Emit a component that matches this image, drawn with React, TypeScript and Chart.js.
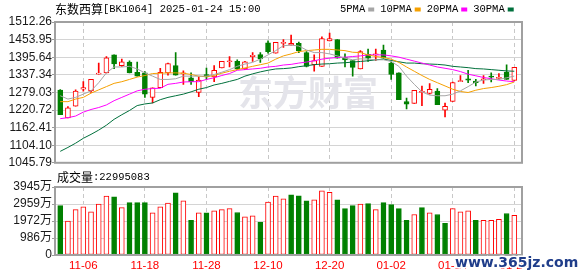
import React, { useEffect, useRef } from 'react';
import { Chart, registerables } from 'chart.js';
Chart.register(...registerables);

// ---------- data ----------
const dates = [
  '11-01','11-04','11-05','11-06','11-07','11-08','11-11','11-12','11-13','11-14',
  '11-15','11-18','11-19','11-20','11-21','11-22','11-25','11-26','11-27','11-28',
  '11-29','12-02','12-03','12-04','12-05','12-06','12-09','12-10','12-11','12-12',
  '12-13','12-16','12-17','12-18','12-19','12-20','12-23','12-24','12-25','12-26',
  '12-27','12-30','12-31','01-02','01-03','01-06','01-07','01-08','01-09','01-10',
  '01-13','01-14','01-15','01-16','01-17','01-20','01-21','01-22','01-23','01-24',
];
const opens = [
  1286.3,1194.2,1233.2,1289.5,1284.1,1339.4,1343.7,1403.3,1367.5,1379.4,
  1345.9,1343.7,1262.5,1294.9,1343.7,1367.6,1340.5,1327.5,1278.7,1338.3,
  1330.7,1360.0,1380.5,1381.6,1356.7,1397.8,1404.4,1443.4,1408.7,1441.2,
  1435.8,1441.2,1410.9,1370.8,1365.3,1449.9,1454.2,1394.6,1384.8,1356.7,
  1405.4,1403.3,1419.5,1376.2,1343.7,1248.4,1242.9,1279.0,1275.4,1283.0,
  1220.2,1249.5,1314.5,1324.2,1316.7,1320.9,1332.9,1325.3,1346.0,1318.8,
];
const highs = [
  1288.0,1232.0,1287.3,1314.5,1322.0,1376.2,1397.8,1403.3,1389.2,1383.8,
  1379.4,1348.0,1293.9,1358.9,1376.2,1410.9,1350.2,1343.7,1330.7,1360.0,
  1367.5,1381.6,1397.8,1387.0,1381.6,1410.9,1410.9,1449.9,1444.5,1454.2,
  1469.3,1445.5,1414.1,1403.3,1462.9,1475.9,1454.2,1406.5,1384.8,1417.4,
  1422.8,1422.8,1435.8,1380.5,1343.7,1260.3,1286.2,1300.0,1308.0,1291.6,
  1244.0,1313.5,1335.0,1352.4,1322.0,1335.0,1343.7,1341.5,1370.0,1362.1,
];
const lows = [
  1205.0,1194.2,1233.2,1283.0,1278.7,1339.4,1343.7,1357.8,1365.3,1343.7,
  1332.9,1262.5,1244.0,1294.9,1336.1,1336.1,1305.8,1305.8,1264.6,1322.0,
  1314.5,1360.0,1363.2,1354.5,1354.5,1381.6,1378.4,1408.7,1408.7,1428.2,
  1435.8,1410.9,1363.2,1349.1,1365.3,1449.9,1392.4,1363.2,1332.9,1356.7,
  1381.6,1384.8,1392.4,1322.0,1254.8,1224.5,1242.9,1235.4,1273.2,1238.6,
  1197.4,1249.5,1314.5,1311.3,1300.4,1309.1,1313.4,1322.0,1322.0,1318.8,
];
const closes = [
  1205.0,1227.8,1283.0,1294.9,1322.0,1342.6,1393.5,1373.0,1380.5,1343.7,
  1332.9,1273.3,1293.9,1345.9,1374.1,1336.1,1343.7,1314.5,1319.9,1330.7,
  1352.4,1381.6,1383.8,1356.7,1380.5,1402.2,1390.3,1414.1,1444.5,1443.4,
  1441.2,1417.4,1365.3,1384.8,1457.4,1457.4,1392.4,1387.0,1362.1,1414.1,
  1392.4,1406.5,1392.4,1338.3,1254.8,1239.7,1286.2,1281.0,1289.5,1238.6,
  1233.2,1311.3,1316.7,1319.9,1311.3,1324.2,1329.6,1327.5,1322.0,1362.1,
];
const ma5 = [
  1267.9,1257.0,1262.5,1273.3,1284.1,1311.2,1343.7,1363.2,1363.2,1365.4,
  1356.7,1343.7,1332.9,1322.0,1322.0,1324.2,1332.9,1332.9,1332.9,1332.9,
  1338.3,1345.9,1354.5,1365.4,1373.0,1378.4,1389.2,1403.3,1417.4,1433.6,
  1435.8,1432.5,1419.5,1410.9,1410.9,1406.5,1400.0,1392.5,1387.0,1390.3,
  1389.2,1387.0,1387.0,1381.6,1365.4,1332.9,1305.8,1280.9,1270.0,1267.9,
  1267.9,1273.3,1284.1,1298.2,1313.4,1319.9,1322.0,1322.0,1327.5,1332.9,
];
const ma10 = [
  1248.4,1248.4,1257.0,1262.5,1276.5,1287.4,1298.2,1309.0,1314.5,1322.0,
  1329.6,1335.0,1341.5,1342.6,1343.7,1343.7,1342.6,1338.3,1332.9,1330.7,
  1335.0,1342.6,1349.1,1354.5,1360.0,1365.4,1370.8,1376.2,1389.2,1400.0,
  1406.5,1414.1,1417.4,1419.5,1421.7,1421.7,1419.5,1417.4,1412.0,1410.9,
  1403.3,1397.9,1394.6,1389.2,1378.4,1363.2,1349.1,1335.0,1322.0,1311.2,
  1300.4,1289.5,1282.0,1278.7,1286.3,1291.7,1295.0,1299.3,1304.7,1313.4,
];
const ma20 = [
  1192.0,1195.3,1200.7,1213.7,1222.4,1228.9,1237.5,1251.6,1262.5,1273.3,
  1284.1,1289.5,1291.7,1292.8,1305.8,1309.0,1313.4,1314.5,1314.5,1322.0,
  1327.5,1335.0,1341.5,1352.4,1354.5,1356.7,1358.9,1363.2,1365.4,1369.7,
  1371.9,1376.2,1379.5,1383.8,1389.2,1392.5,1394.6,1395.7,1397.9,1400.0,
  1403.3,1403.3,1403.3,1400.0,1395.7,1389.2,1382.7,1376.2,1369.7,1363.2,
  1358.9,1354.5,1348.0,1339.4,1334.0,1328.5,1324.2,1319.9,1316.6,1314.5,
];
const ma30 = [
  1083.7,1096.7,1110.8,1127.0,1140.0,1154.1,1170.4,1189.9,1205.0,1219.1,
  1235.4,1240.8,1244.0,1254.9,1262.5,1267.9,1273.3,1280.9,1289.5,1295.0,
  1303.6,1309.0,1315.5,1322.0,1332.9,1340.5,1347.0,1352.4,1356.7,1357.8,
  1360.0,1364.3,1367.5,1370.8,1373.0,1374.0,1376.2,1377.3,1379.5,1381.6,
  1383.8,1387.0,1389.2,1384.9,1380.5,1376.2,1376.2,1374.0,1373.0,1371.9,
  1369.7,1365.4,1363.2,1361.0,1357.8,1356.7,1354.5,1352.4,1350.2,1349.1,
];
// volume in 万
const volumes = [
  2864,1973,2637,2789,2504,2959,3415,3377,2751,3035,
  3035,3035,2447,2789,3016,3604,3149,2011,2447,2447,
  2561,2637,2694,2466,2219,2276,1897,3073,3415,3263,
  3490,3434,3149,3206,3718,3642,3206,2694,2864,2959,
  2978,2637,3035,2921,2694,2011,2352,2751,2447,2352,
  1840,2694,2504,2561,2011,2011,2011,2068,2409,2300,
];
// 1 = up day (red), -1 = down day (green) for the volume bars
const volumeDir = [
  -1,1,1,1,1,1,1,-1,1,-1,
  -1,-1,1,1,1,-1,1,-1,1,-1,
  1,1,1,-1,1,1,-1,1,1,1,
  -1,-1,-1,1,1,1,-1,-1,-1,1,
  -1,1,-1,-1,-1,-1,1,-1,1,-1,
  -1,1,1,1,-1,1,1,1,-1,1,
];
const priceTickLabels = ['1045.79','1104.10','1162.41','1220.72','1279.03','1337.34','1395.64','1453.95','1512.26'];
const volumeTickValues = [0, 986.25, 1972.5, 2958.75, 3945];
const volumeTickLabels = ['0','986万','1972万','2959万','3945万'];
const xTickLabels = ['11-06','11-18','11-28','12-10','12-20','01-02','01-14','01-24'];
const titleName = '东数西算';
const titleCode = '[BK1064] 2025-01-24 15:00';
const maNames = ['5PMA','10PMA','20PMA','30PMA'];
const volumeTitle = '成交量';
const lastVolume = '22995083';
const watermarkMain = '东方财富';
const watermarkSite = 'www.365jz.com';

// ---------- styles ----------
const RED = '#ff0000';
const GREEN = '#008000';
const MA_COLORS = ['#a6a6a6', '#f5a000', '#ff00ff', '#00703c'];
const CJK = '12px "Noto Sans CJK SC"';
const MONO = '10.5px "Liberation Mono"';
const N = dates.length;
const X_MIN = -0.68;
const PLOT_LEFT = 55;
const PLOT_RIGHT_PAD = 56;

const priceMin = parseFloat(priceTickLabels[0]);
const priceMax = parseFloat(priceTickLabels[priceTickLabels.length - 1]);
const priceTickValues = priceTickLabels.map(
  (_, k) => priceMin + ((priceMax - priceMin) * k) / (priceTickLabels.length - 1)
);
const xTickIdx = xTickLabels.map((l) => dates.indexOf(l));

function drawRun(ctx: CanvasRenderingContext2D, x: number, y: number, parts: [string, string, string][]) {
  for (const [text, font, color] of parts) {
    ctx.font = font;
    ctx.fillStyle = color;
    ctx.fillText(text, x, y);
    x += ctx.measureText(text).width;
  }
  return x;
}

const framePlugin = {
  id: 'frame',
  afterDatasetsDraw(chart: any) {
    const { ctx, chartArea: a } = chart;
    ctx.save();
    ctx.strokeStyle = '#a0a0a0';
    ctx.lineWidth = 2;
    ctx.strokeRect(a.left, a.top, a.right - a.left, a.bottom - a.top);
    ctx.restore();
  },
};

function xScale(showLabels: boolean) {
  return {
    type: 'linear',
    min: X_MIN,
    max: N,
    bounds: 'data',
    offset: false,
    afterBuildTicks: (s: any) => {
      s.ticks = xTickIdx.map((v) => ({ value: v }));
    },
    afterFit: (s: any) => {
      s.height = showLabels ? 21 : 0;
    },
    grid: { color: '#c8c8c8', lineWidth: 1, drawTicks: false, offset: false },
    border: { display: false, dash: [4, 3] },
    ticks: {
      display: showLabels,
      color: RED,
      font: { family: 'Liberation Sans', size: 11.5 },
      padding: 4,
      maxRotation: 0,
      autoSkip: false,
      callback: (v: any) => dates[v as number],
    },
  };
}

export default function App() {
  const priceRef = useRef<HTMLCanvasElement>(null);
  const volRef = useRef<HTMLCanvasElement>(null);

  useEffect(() => {
    const idx = dates.map((_, i) => i);
    const up = idx.map((i) => closes[i] >= opens[i]);

    const textPlugin = {
      id: 'priceText',
      beforeDatasetsDraw(chart: any) {
        const { ctx } = chart;
        ctx.save();
        ctx.font = 'bold 35px "Noto Sans CJK SC"';
        ctx.fillStyle = '#e4e4ea';
        ctx.textAlign = 'center';
        ctx.textBaseline = 'middle';
        ctx.fillText(watermarkMain, 308, 93);
        ctx.restore();
      },
      afterDraw(chart: any) {
        const { ctx } = chart;
        ctx.save();
        ctx.textBaseline = 'middle';
        drawRun(ctx, 55, 9.5, [
          [titleName, CJK, '#000'],
          [titleCode, MONO, '#000'],
        ]);
        let x = 340;
        maNames.forEach((name, k) => {
          ctx.font = MONO;
          ctx.fillStyle = '#000';
          ctx.fillText(name, x, 9.5);
          x += ctx.measureText(name).width + 3;
          ctx.fillStyle = MA_COLORS[k];
          ctx.fillRect(x, 7.5, 6, 4);
          x += 6 + 6;
        });
        ctx.restore();
      },
    };

    const priceChart = new Chart(priceRef.current as HTMLCanvasElement, {
      type: 'bar',
      data: {
        datasets: [
          ...[ma5, ma10, ma20, ma30].map((arr, k) => ({
            type: 'line',
            data: idx.map((i) => ({ x: i, y: arr[i] })),
            borderColor: MA_COLORS[k],
            borderWidth: 1,
            pointRadius: 0,
            tension: 0,
            order: 1,
          })),
          {
            type: 'bar',
            data: idx.map((i) => ({ x: i, y: [opens[i], closes[i]] })),
            backgroundColor: idx.map((i) => (up[i] ? '#ffffff' : GREEN)),
            borderColor: idx.map((i) => (up[i] ? RED : GREEN)),
            borderWidth: 1,
            borderSkipped: false,
            barThickness: 5,
            minBarLength: 1,
            grouped: false,
            order: 2,
          },
          {
            type: 'bar',
            data: idx.map((i) => ({ x: i, y: [lows[i], highs[i]] })),
            backgroundColor: idx.map((i) => (up[i] ? RED : GREEN)),
            borderWidth: 0,
            barThickness: 1,
            minBarLength: 1,
            grouped: false,
            order: 3,
          },
        ] as any,
      },
      options: {
        responsive: false,
        maintainAspectRatio: false,
        devicePixelRatio: 1,
        animation: false,
        events: [],
        layout: { padding: { top: 22, bottom: 5, left: 0, right: PLOT_RIGHT_PAD } },
        plugins: { legend: { display: false }, tooltip: { enabled: false } },
        scales: {
          x: xScale(false) as any,
          y: {
            type: 'linear',
            min: priceMin,
            max: priceMax,
            bounds: 'data',
            beginAtZero: false,
            afterBuildTicks: (s: any) => {
              s.ticks = priceTickValues.map((v) => ({ value: v }));
            },
            afterFit: (s: any) => {
              s.width = PLOT_LEFT;
            },
            grid: { color: '#d4d4d4', lineWidth: 1, tickLength: 3, tickColor: '#999', drawTicks: true },
            border: { display: false },
            ticks: {
              color: '#1a1a1a',
              font: { family: 'Liberation Sans', size: 12 },
              padding: 0,
              autoSkip: false,
              callback: (_v: any, i: number) => priceTickLabels[i],
            },
          } as any,
        },
      },
      plugins: [textPlugin, framePlugin],
    } as any);

    const volPlugin = {
      id: 'volText',
      afterDraw(chart: any) {
        const { ctx } = chart;
        ctx.save();
        ctx.textBaseline = 'middle';
        drawRun(ctx, 57, 7.5, [
          [volumeTitle, CJK, '#000'],
          [':' + lastVolume, MONO, '#000'],
        ]);
        ctx.font = 'bold 14px "DejaVu Sans"';
        ctx.textBaseline = 'alphabetic';
        ctx.lineWidth = 3;
        ctx.strokeStyle = '#ffffff';
        ctx.strokeText(watermarkSite, 455, 97);
        ctx.fillStyle = '#1f3d8a';
        ctx.fillText(watermarkSite, 455, 97);
        ctx.restore();
      },
    };

    const volChart = new Chart(volRef.current as HTMLCanvasElement, {
      type: 'bar',
      data: {
        datasets: [
          {
            data: idx.map((i) => ({ x: i, y: volumes[i] })),
            backgroundColor: idx.map((i) => (volumeDir[i] > 0 ? '#ffffff' : GREEN)),
            borderColor: idx.map((i) => (volumeDir[i] > 0 ? RED : GREEN)),
            borderWidth: 1,
            borderSkipped: false,
            barThickness: 5,
            grouped: false,
          },
        ] as any,
      },
      options: {
        responsive: false,
        maintainAspectRatio: false,
        devicePixelRatio: 1,
        animation: false,
        events: [],
        layout: { padding: { top: 17, bottom: 0, left: 0, right: PLOT_RIGHT_PAD } },
        plugins: { legend: { display: false }, tooltip: { enabled: false } },
        scales: {
          x: xScale(true) as any,
          y: {
            type: 'linear',
            min: volumeTickValues[0],
            max: volumeTickValues[volumeTickValues.length - 1],
            bounds: 'data',
            beginAtZero: true,
            afterBuildTicks: (s: any) => {
              s.ticks = volumeTickValues.map((v) => ({ value: v }));
            },
            afterFit: (s: any) => {
              s.width = PLOT_LEFT;
            },
            grid: { color: '#d4d4d4', lineWidth: 1, tickLength: 3, tickColor: '#999', drawTicks: true },
            border: { display: false },
            ticks: {
              color: '#1a1a1a',
              font: { family: '"Liberation Sans", "Noto Sans CJK SC"', size: 12 },
              padding: 0,
              autoSkip: false,
              callback: (_v: any, i: number) => volumeTickLabels[i],
            },
          } as any,
        },
      },
      plugins: [framePlugin, volPlugin],
    } as any);

    return () => {
      priceChart.destroy();
      volChart.destroy();
    };
  }, []);

  return (
    <div style={{ position: 'fixed', left: 0, top: 0, width: 578, height: 276, background: '#ffffff' }}>
      <canvas
        ref={priceRef}
        width={578}
        height={170}
        style={{ position: 'absolute', left: 0, top: 0, width: 578, height: 170 }}
      />
      <canvas
        ref={volRef}
        width={578}
        height={106}
        style={{ position: 'absolute', left: 0, top: 170, width: 578, height: 106 }}
      />
    </div>
  );
}
